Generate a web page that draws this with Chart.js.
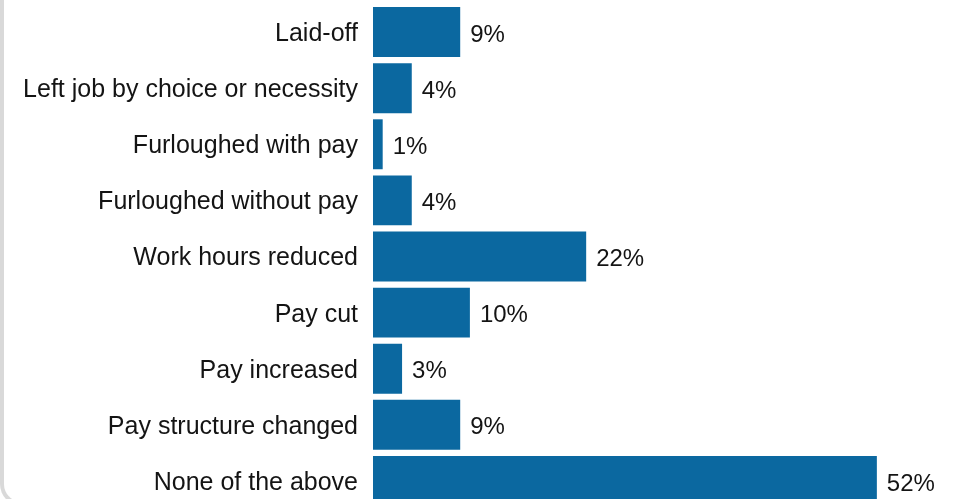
<!DOCTYPE html>
<html>
<head>
<meta charset="utf-8">
<script src="https://cdn.jsdelivr.net/npm/chart.js@4/dist/chart.umd.min.js"></script>
<style>
  html, body { margin: 0; padding: 0; background: #ffffff; overflow: hidden; }
  body { width: 953px; height: 499px; position: relative; }
  #frame {
    position: absolute; left: 0; top: -30px; width: 990px; height: 536px;
    border-left: 4px solid #d9d9d9; border-bottom: 4px solid #d9d9d9;
    border-bottom-left-radius: 22px; box-sizing: border-box;
  }
  #chart { position: absolute; left: 0; top: 0; }
</style>
</head>
<body>
<div id="frame"></div>
<canvas id="chart" width="953" height="512"></canvas>
<script>
// Employment changes reported by respondents (% of respondents)
const categories = [
  'Laid-off',
  'Left job by choice or necessity',
  'Furloughed with pay',
  'Furloughed without pay',
  'Work hours reduced',
  'Pay cut',
  'Pay increased',
  'Pay structure changed',
  'None of the above'
];
const shares = [9, 4, 1, 4, 22, 10, 3, 9, 52];

const BAR_COLOR = '#0b68a0';
const TEXT_COLOR = '#141414';
const FONT_FAMILY = '"Liberation Sans", Arial, sans-serif';

// Writes the percentage just past the end of each bar
const valueLabels = {
  id: 'valueLabels',
  afterDatasetsDraw(chart) {
    const ctx = chart.ctx;
    const meta = chart.getDatasetMeta(0);
    ctx.save();
    ctx.font = '24px ' + FONT_FAMILY;
    ctx.fillStyle = TEXT_COLOR;
    ctx.textAlign = 'left';
    ctx.textBaseline = 'middle';
    meta.data.forEach((bar, i) => {
      ctx.fillText(shares[i] + '%', bar.x + 10, bar.y + 3);
    });
    ctx.restore();
  }
};

new Chart(document.getElementById('chart'), {
  type: 'bar',
  data: {
    labels: categories,
    datasets: [{
      data: shares,
      backgroundColor: BAR_COLOR,
      borderWidth: 0,
      categoryPercentage: 1,
      barPercentage: 0.89
    }]
  },
  options: {
    indexAxis: 'y',
    responsive: false,
    animation: false,
    layout: { padding: { top: 4, bottom: 3, right: 18, left: 0 } },
    plugins: { legend: { display: false }, tooltip: { enabled: false } },
    scales: {
      x: { display: false, min: 0, max: 58 },
      y: {
        grid: { display: false, drawTicks: false },
        border: { display: false },
        ticks: {
          color: TEXT_COLOR,
          font: { family: FONT_FAMILY, size: 25 },
          padding: 15,
          labelOffset: 2
        },
        afterFit(scale) {
          scale.width = 373;
          scale.paddingTop = 0;
          scale.paddingBottom = 0;
        }
      }
    }
  },
  plugins: [valueLabels]
});
</script>
</body>
</html>
